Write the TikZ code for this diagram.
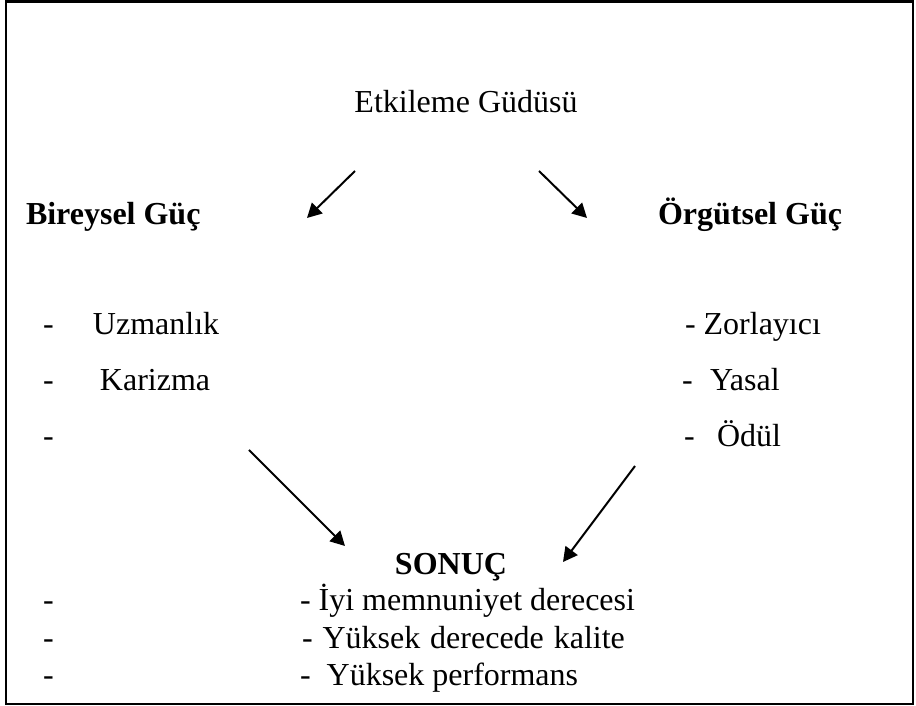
\documentclass[tikz,border=0pt]{standalone}
\usepackage{fontspec}
\setmainfont{Liberation Serif}
\usetikzlibrary{arrows.meta}
\begin{document}
\begin{tikzpicture}[x=0.375pt,y=-0.375pt,
  txt/.style={inner sep=0pt, outer sep=0pt, anchor=base west, font=\fontsize{12}{14}\selectfont},
  head/.style={txt, font=\fontsize{12}{14}\selectfont\bfseries},
  link/.style={line width=0.75pt, -{Triangle[length=5.4pt,width=5.6pt]}}]
\useasboundingbox (0,0) rectangle (916,706);
% frame
\draw[line width=0.8pt] (6,1.5) rectangle (913,704);

% motive
\node[txt, anchor=base] (goal) at (466,113) {Etkileme Güdüsü};

% the two kinds of power
\node[head] (ind) at (26,225) {Bireysel Güç};
\node[head] (org) at (658,225) {Örgütsel Güç};

% personal power items
\node[txt] (ld1) at (43,335) {-};
\node[txt] (uz)  at (93,335) {Uzmanlık};
\node[txt] (ld2) at (43,391) {-};
\node[txt] (kar) at (100,391) {Karizma};
\node[txt] (ld3) at (43,447) {-};

% organisational power items
\node[txt] (zor) at (685,335) {- Zorlayıcı};
\node[txt] (rd2) at (682,391) {-};
\node[txt] (yas) at (710,391) {Yasal};
\node[txt] (rd3) at (684,447) {-};
\node[txt] (odl) at (717,447) {Ödül};

% outcome
\node[head, anchor=base] (res) at (451,575) {SONUÇ};
\node[txt] (r1) at (300,611) {- İyi memnuniyet derecesi};
\node[txt] (r2) at (302,649) {\spaceskip=0.31em - Yüksek derecede kalite};
\node[txt] (r3) at (300,686) {-\hspace{0.5em}Yüksek performans};
\node[txt] (bd1) at (43,611) {-};
\node[txt] (bd2) at (43,649) {-};
\node[txt] (bd3) at (43,686) {-};

% arrow ends
\coordinate (a1s) at (355,171); \coordinate (a1e) at (307,218);
\coordinate (a2s) at (539,171); \coordinate (a2e) at (587,218);
\coordinate (a3s) at (249,450); \coordinate (a3e) at (345,546);
\coordinate (a4s) at (635,466); \coordinate (a4e) at (563,562);

\draw[link] (a1s) -- (a1e);
\draw[link] (a2s) -- (a2e);
\draw[link] (a3s) -- (a3e);
\draw[link] (a4s) -- (a4e);
\end{tikzpicture}
\end{document}
